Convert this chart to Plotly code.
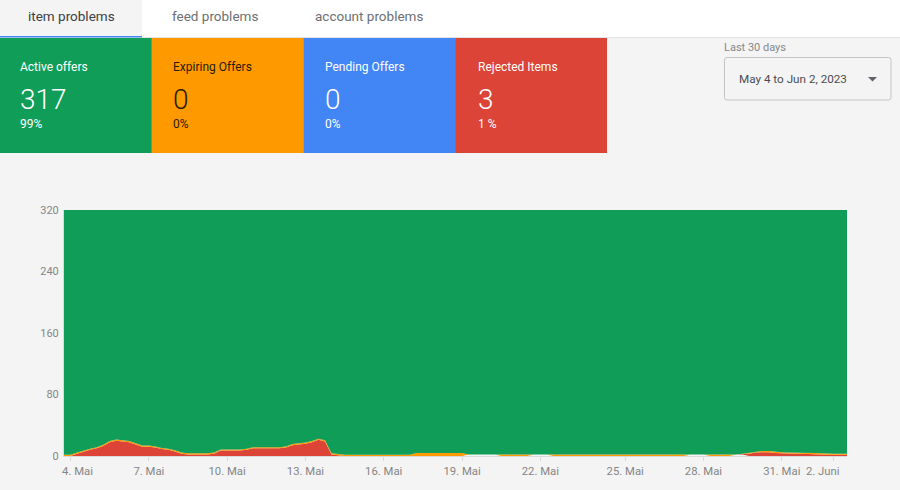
import plotly.graph_objects as go

# six-hourly samples
red = [0, 0, 3, 6, 8, 10, 13, 18, 20, 19, 18, 15, 12, 12, 11, 9, 8, 6, 3, 2,
       2, 2, 2, 3, 7, 7, 7, 7, 8, 10, 10, 10, 10, 10, 11, 14, 15, 16, 18, 21,
       19, 2, 1, 0, 0, 0, 0, 0, 0, 0, 0, 0, 0, 0, 0, 0, 0, 0, 0, 0,
       0, 0, 0, 0, 0, 0, 0, 0, 0, 0, 0, 0, 0, 0, 0, 0, 0, 0, 0, 0,
       0, 0, 0, 0, 0, 0, 0, 0, 0, 0, 0, 0, 0, 0, 0, 0, 0, 0, 0, 0,
       0, 0, 0, 0, 1, 3, 4.5, 5, 5, 4, 3.5, 3, 3, 3, 2.5, 2.5, 2, 1.5, 1.5, 1.5,
       1.5]
orange = [1.5, 1.5, 1.5, 1.5, 1.5, 1.5, 1.5, 1.5, 1.5, 1.5, 1.5, 1.5, 1.5, 1.5, 1.5, 1.5, 1.5, 1.5, 1.5, 1.5,
          1.5, 1.5, 1.5, 1.5, 1.5, 1.5, 1.5, 1.5, 1.5, 1.5, 1.5, 1.5, 1.5, 1.5, 1.5, 1.5, 1.5, 1.5, 1.5, 1.5,
          1.5, 1.5, 1.5, 1.5, 1.5, 1.5, 1.5, 1.5, 1.5, 1.5, 1.5, 1.5, 1.5, 1.5, 4, 4, 4, 4, 4, 4,
          4, 4, 0, 0, 0, 0, 0, 1.5, 1.5, 1.5, 1.5, 1.5, 0, 0, 0, 1.5, 1.5, 1.5, 1.5, 1.5,
          1.5, 1.5, 1.5, 1.5, 1.5, 1.5, 1.5, 1.5, 1.5, 1.5, 1.5, 1.5, 1.5, 1.5, 1.5, 1.5, 0, 0, 0, 1.5,
          1.5, 1.5, 1.5, 0, 0, 1.5, 1.5, 1.5, 1.5, 1.5, 1.5, 1.5, 1.5, 1.5, 1.5, 1.5, 1.5, 1.5, 1.5, 1.5,
          1.5]
# stretches where the green band floats just above the axis
gap = [0, 0, 0, 0, 0, 0, 0, 0, 0, 0, 0, 0, 0, 0, 0, 0, 0, 0, 0, 0,
       0, 0, 0, 0, 0, 0, 0, 0, 0, 0, 0, 0, 0, 0, 0, 0, 0, 0, 0, 0,
       0, 0, 0, 0, 0, 0, 0, 0, 0, 0, 0, 0, 0, 0, 0, 0, 0, 0, 0, 0,
       0, 0, 2, 2, 2, 2, 2, 0, 0, 0, 0, 0, 2, 2, 2, 0, 0, 0, 0, 0,
       0, 0, 0, 0, 0, 0, 0, 0, 0, 0, 0, 0, 0, 0, 0, 0, 2, 2, 2, 0,
       0, 0, 0, 2, 2, 0, 0, 0, 0, 0, 0, 0, 0, 0, 0, 0, 0, 0, 0, 0,
       0]
green = [318.5, 318.5, 315.5, 312.5, 310.5, 308.5, 305.5, 300.5, 298.5, 299.5, 300.5, 303.5, 306.5, 306.5, 307.5, 309.5, 310.5, 312.5, 315.5, 316.5,
         316.5, 316.5, 316.5, 315.5, 311.5, 311.5, 311.5, 311.5, 310.5, 308.5, 308.5, 308.5, 308.5, 308.5, 307.5, 304.5, 303.5, 302.5, 300.5, 297.5,
         299.5, 316.5, 317.5, 318.5, 318.5, 318.5, 318.5, 318.5, 318.5, 318.5, 318.5, 318.5, 318.5, 318.5, 316, 316, 316, 316, 316, 316,
         316, 316, 318, 318, 318, 318, 318, 318.5, 318.5, 318.5, 318.5, 318.5, 318, 318, 318, 318.5, 318.5, 318.5, 318.5, 318.5,
         318.5, 318.5, 318.5, 318.5, 318.5, 318.5, 318.5, 318.5, 318.5, 318.5, 318.5, 318.5, 318.5, 318.5, 318.5, 318.5, 318, 318, 318, 318.5,
         318.5, 318.5, 318.5, 318, 317, 315.5, 314, 313.5, 313.5, 314.5, 315, 315.5, 315.5, 315.5, 316, 316, 316.5, 317, 317, 317,
         317]
samples = list(range(len(red)))

tick_samples = [1, 13, 25, 37, 49, 61, 73, 86, 98, 110, 118]
tick_labels = ["4. Mai", "7. Mai", "10. Mai", "13. Mai", "16. Mai", "19. Mai",
               "22. Mai", "25. Mai", "28. Mai", "31. Mai", "2. Juni"]
y_ticks = [0, 80, 160, 240, 320]

tabs = ["item problems", "feed problems", "account problems"]
tab_centers = [71, 215, 369]

card_titles = ["Active offers", "Expiring Offers", "Pending Offers", "Rejected Items"]
card_values = ["317", "0", "0", "3"]
card_percents = ["99%", "0%", "0%", "1 %"]
card_colors = ["#0F9D58", "#FF9900", "#4285F4", "#DB4437"]
card_inks = ["#ffffff", "#2b1c00", "#ffffff", "#ffffff"]

BG = "#F4F4F4"
FONT = "Roboto"


# page pixels to paper coordinates (plot area is x 64-847, y 210-456)
def px(x):
    return (x - 64) / 783


def py(y):
    return (456 - y) / 246


def text(x, y, s, size, color, anchor="left", weight=400):
    return dict(x=px(x), y=py(y), xref="paper", yref="paper", text=s, showarrow=False,
                xanchor=anchor, yanchor="middle", align=anchor, borderpad=0, borderwidth=0,
                font=dict(family=FONT, size=size, color=color, weight=weight))


def rect(x0, y0, x1, y1, fill):
    return dict(type="rect", xref="paper", yref="paper", x0=px(x0), x1=px(x1), y0=py(y0), y1=py(y1),
                fillcolor=fill, line_width=0, layer="below")


fig = go.Figure()
for name, values, color in [("gap", gap, BG), ("Rejected Items", red, card_colors[3]),
                            ("Expiring Offers", orange, card_colors[1]), ("Active offers", green, card_colors[0])]:
    fig.add_trace(go.Scatter(x=samples, y=values, name=name, mode="lines", stackgroup="one",
                             line=dict(width=0), fillcolor=color))

shapes = [rect(0, 0, 900, 37, "#ffffff"), rect(0, 0, 142, 36, BG), rect(0, 36, 142, 37.5, "#4285F4"),
          rect(142, 37, 900, 38, "#E4E4E4")]
annotations = []

for label, center, active in zip(tabs, tab_centers, [True, False, False]):
    annotations.append(text(center, 16, label, 13.5, "#3C4043" if active else "#6B6F73", "center"))

for i in range(len(card_titles)):
    left = 151.7 * i
    shapes.append(rect(left, 38, left + 151.9, 153, card_colors[i]))
    label_x = 20 + 152.5 * i
    annotations.append(text(label_x, 66.5, card_titles[i], 12, card_inks[i]))
    annotations.append(text(label_x, 99, card_values[i], 28, card_inks[i], weight=300))
    annotations.append(text(label_x, 124.5, card_percents[i], 12, card_inks[i]))

annotations.append(text(724, 47, "Last 30 days", 11, "#85888C"))
annotations.append(text(739, 79, "May 4 to Jun 2, 2023", 11.7, "#4A4D51"))
shapes.append(dict(type="path", xref="paper", yref="paper", layer="below", fillcolor=BG,
                   line=dict(color="#C4C4C4", width=1),
                   path=" ".join([
                       f"M {px(727)} {py(57.5)} L {px(888.5)} {py(57.5)}",
                       f"Q {px(891)} {py(57.5)} {px(891)} {py(60)}",
                       f"L {px(891)} {py(97.5)} Q {px(891)} {py(100)} {px(888.5)} {py(100)}",
                       f"L {px(727)} {py(100)} Q {px(724.5)} {py(100)} {px(724.5)} {py(97.5)}",
                       f"L {px(724.5)} {py(60)} Q {px(724.5)} {py(57.5)} {px(727)} {py(57.5)} Z"])))
shapes.append(dict(type="path", xref="paper", yref="paper", fillcolor="#5F6368", line_width=0,
                   path=f"M {px(868)} {py(77)} L {px(877)} {py(77)} L {px(872.5)} {py(81.5)} Z"))

# the first and last labels sit off their ticks so they stay clear of the edges
ticktext = list(tick_labels)
ticktext[0] = "\u00a0" * 5 + ticktext[0]
ticktext[-1] = ticktext[-1] + "\u00a0" * 8

fig.update_layout(
    width=900, height=490,
    margin=dict(l=64, r=53, t=210, b=34, pad=0),
    paper_bgcolor=BG, plot_bgcolor=BG,
    showlegend=False,
    font=dict(family=FONT, size=12, color="#808080"),
    shapes=shapes, annotations=annotations,
    xaxis=dict(range=[0, 120], tickmode="array", tickvals=tick_samples, ticktext=ticktext, tickangle=0,
               automargin=False,
               showgrid=False, zeroline=False, showline=True, linecolor="#DADADA", linewidth=1,
               ticks="outside", ticklen=4, tickcolor="#DADADA", tickfont=dict(size=11.3, color="#858585")),
    yaxis=dict(range=[0, 320], tickmode="array", tickvals=y_ticks, automargin=False,
               showgrid=False, zeroline=False, showline=True, linecolor="#DADADA", linewidth=1,
               ticks="outside", ticklen=2, tickcolor=BG, tickfont=dict(size=11, color="#858585")),
)

fig.write_html("out.html", config=dict(displayModeBar=False), post_script="document.body.style.margin='0';")
